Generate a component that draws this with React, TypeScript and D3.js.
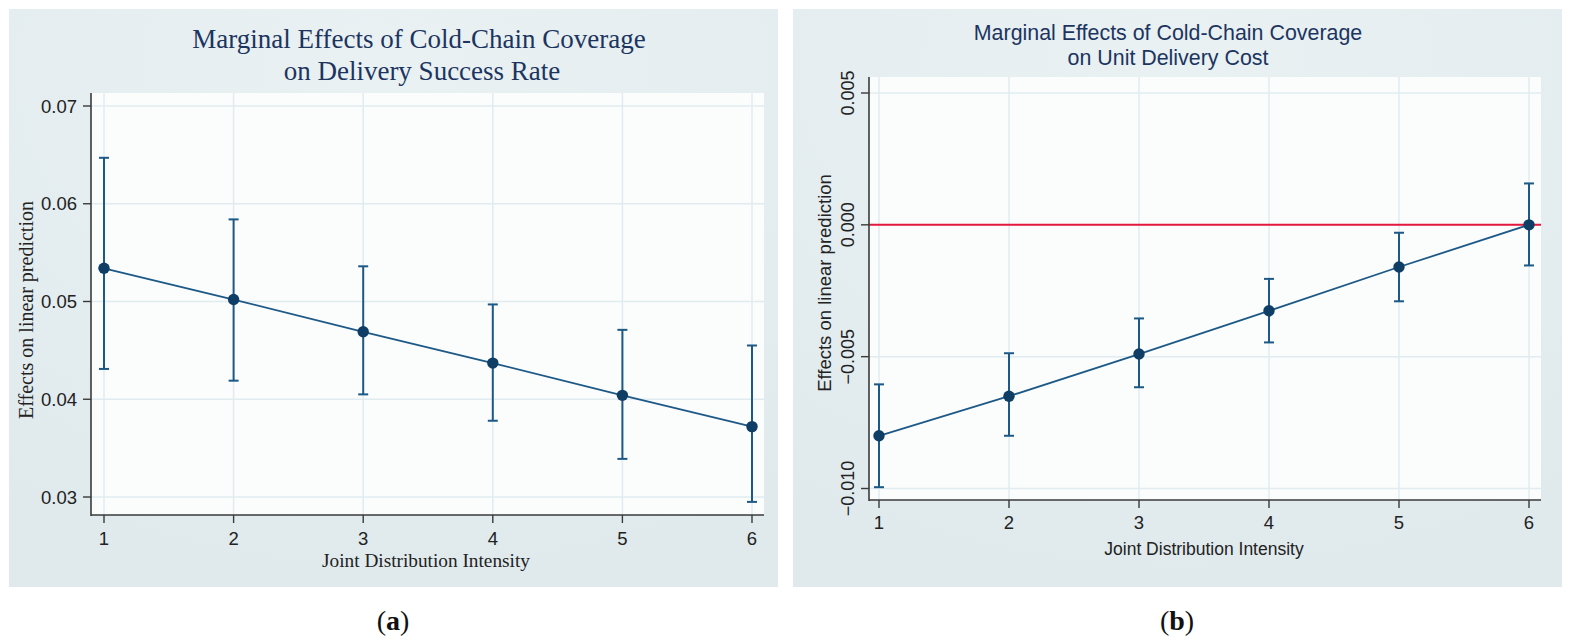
import React from "react";
import * as d3 from "d3";

// ---------- data ----------
const xCategories = [1, 2, 3, 4, 5, 6];

// Panel (a): Delivery Success Rate
const aEstimate = [0.0534, 0.0502, 0.0469, 0.0437, 0.0404, 0.0372];
const aUpper = [0.0647, 0.0584, 0.0536, 0.0497, 0.0471, 0.0455];
const aLower = [0.0431, 0.0419, 0.0405, 0.0378, 0.0339, 0.0295];
const aYTicks = [0.03, 0.04, 0.05, 0.06, 0.07];
const aYTickLabels = ["0.03", "0.04", "0.05", "0.06", "0.07"];

// Panel (b): Unit Delivery Cost
const bEstimate = [-0.008, -0.0065, -0.0049, -0.00326, -0.0016, 0.0];
const bUpper = [-0.00605, -0.00487, -0.00355, -0.00205, -0.0003, 0.00157];
const bLower = [-0.00995, -0.008, -0.00616, -0.00446, -0.0029, -0.00154];
const bYTicks = [-0.01, -0.005, 0.0, 0.005];
const bYTickLabels = ["\u22120.010", "\u22120.005", "0.000", "0.005"];
const bReference = 0;

const aTitle = ["Marginal Effects of Cold-Chain Coverage", "on Delivery Success Rate"];
const bTitle = ["Marginal Effects of Cold-Chain Coverage", "on Unit Delivery Cost"];
const xTitle = "Joint Distribution Intensity";
const yTitle = "Effects on linear prediction";

// ---------- styles ----------
const SERIF = "'Liberation Serif', 'Times New Roman', serif";
const SANS = "'Liberation Sans', Arial, sans-serif";
const PLOT_BG = "#fbfcfc";
const GRID = "#e1ecf0";
const AXIS = "#3a3a3a";
const NAVY_MARK = "#0e3d66";
const NAVY_LINE = "#1d5987";
const TITLE_COL = "#1c3560";

type PanelProps = {
  est: number[];
  up: number[];
  lo: number[];
  x: d3.ScaleLinear<number, number>;
  y: d3.ScaleLinear<number, number>;
};

function Series({ est, up, lo, x, y }: PanelProps) {
  const line = d3
    .line<number>()
    .x((_, i) => x(xCategories[i]))
    .y((d) => y(d));
  return (
    <g>
      {xCategories.map((c, i) => (
        <g key={"ci" + c}>
          <line x1={x(c)} x2={x(c)} y1={y(up[i])} y2={y(lo[i])} stroke={NAVY_LINE} strokeWidth={2} />
          <line x1={x(c) - 5} x2={x(c) + 5} y1={y(up[i])} y2={y(up[i])} stroke={NAVY_LINE} strokeWidth={2} />
          <line x1={x(c) - 5} x2={x(c) + 5} y1={y(lo[i])} y2={y(lo[i])} stroke={NAVY_LINE} strokeWidth={2} />
        </g>
      ))}
      <path d={line(est) || ""} fill="none" stroke={NAVY_LINE} strokeWidth={1.8} />
      {xCategories.map((c, i) => (
        <circle key={"pt" + c} cx={x(c)} cy={y(est[i])} r={5.7} fill={NAVY_MARK} />
      ))}
    </g>
  );
}

export default function App() {
  // Panel (a) geometry
  const aPlot = { l: 91, r: 764, t: 93, b: 515 };
  const ax = d3.scaleLinear().domain([1, 6]).range([104, 752]);
  const ay = d3.scaleLinear().domain([0.03, 0.07]).range([497, 106]);

  // Panel (b) geometry
  const bPlot = { l: 869, r: 1541, t: 77, b: 500 };
  const bx = d3.scaleLinear().domain([1, 6]).range([879, 1529]);
  const by = d3.scaleLinear().domain([-0.01, 0.005]).range([488.5, 93]);

  return (
    <svg
      width={1571}
      height={642}
      style={{ position: "absolute", left: 0, top: 0, background: "#ffffff" }}
    >
      <defs>
        <radialGradient id="bgGrad" cx="50%" cy="10%" r="90%">
          <stop offset="0%" stopColor="#eaf1f3" />
          <stop offset="100%" stopColor="#e0eaed" />
        </radialGradient>
      </defs>

      {/* ---------- Panel (a) ---------- */}
      <rect x={9} y={9} width={769} height={578} fill="url(#bgGrad)" />
      <rect x={aPlot.l} y={aPlot.t} width={aPlot.r - aPlot.l} height={aPlot.b - aPlot.t} fill={PLOT_BG} />
      {aYTicks.map((v) => (
        <line key={"agy" + v} x1={aPlot.l} x2={aPlot.r} y1={ay(v)} y2={ay(v)} stroke={GRID} strokeWidth={1.5} />
      ))}
      {xCategories.map((c) => (
        <line key={"agx" + c} x1={ax(c)} x2={ax(c)} y1={aPlot.t} y2={aPlot.b} stroke={GRID} strokeWidth={1.5} />
      ))}
      <line x1={aPlot.l} x2={aPlot.l} y1={aPlot.t} y2={aPlot.b + 1} stroke={AXIS} strokeWidth={1.6} />
      <line x1={aPlot.l} x2={aPlot.r} y1={aPlot.b} y2={aPlot.b} stroke={AXIS} strokeWidth={1.6} />
      {aYTicks.map((v, i) => (
        <g key={"aty" + v}>
          <line x1={aPlot.l - 8} x2={aPlot.l} y1={ay(v)} y2={ay(v)} stroke={AXIS} strokeWidth={1.4} />
          <text x={77} y={ay(v) + 6.5} textAnchor="end" fontFamily={SANS} fontSize={18.5} fill="#222">
            {aYTickLabels[i]}
          </text>
        </g>
      ))}
      {xCategories.map((c) => (
        <g key={"atx" + c}>
          <line x1={ax(c)} x2={ax(c)} y1={aPlot.b} y2={aPlot.b + 8} stroke={AXIS} strokeWidth={1.4} />
          <text x={ax(c)} y={544.5} textAnchor="middle" fontFamily={SANS} fontSize={18.5} fill="#222">
            {c}
          </text>
        </g>
      ))}
      <Series est={aEstimate} up={aUpper} lo={aLower} x={ax} y={ay} />
      <text x={426} y={567} textAnchor="middle" fontFamily={SERIF} fontSize={19.3} fill="#222">
        {xTitle}
      </text>
      <text
        transform={`translate(33,310) rotate(-90)`}
        textAnchor="middle"
        fontFamily={SERIF}
        fontSize={20}
        fill="#222"
      >
        {yTitle}
      </text>
      <text x={419} y={47.5} textAnchor="middle" fontFamily={SERIF} fontSize={27} fill={TITLE_COL}>
        {aTitle[0]}
      </text>
      <text x={422} y={79.5} textAnchor="middle" fontFamily={SERIF} fontSize={27} fill={TITLE_COL}>
        {aTitle[1]}
      </text>

      {/* ---------- Panel (b) ---------- */}
      <rect x={793} y={9} width={769} height={578} fill="url(#bgGrad)" />
      <rect x={bPlot.l} y={bPlot.t} width={bPlot.r - bPlot.l} height={bPlot.b - bPlot.t} fill={PLOT_BG} />
      {bYTicks.map((v) => (
        <line key={"bgy" + v} x1={bPlot.l} x2={bPlot.r} y1={by(v)} y2={by(v)} stroke={GRID} strokeWidth={1.5} />
      ))}
      {xCategories.map((c) => (
        <line key={"bgx" + c} x1={bx(c)} x2={bx(c)} y1={bPlot.t} y2={bPlot.b} stroke={GRID} strokeWidth={1.5} />
      ))}
      <line x1={bPlot.l} x2={bPlot.r} y1={by(bReference)} y2={by(bReference)} stroke="#e5183f" strokeWidth={2} />
      <line x1={bPlot.l} x2={bPlot.l} y1={bPlot.t} y2={bPlot.b + 1} stroke={AXIS} strokeWidth={1.6} />
      <line x1={bPlot.l} x2={bPlot.r} y1={bPlot.b} y2={bPlot.b} stroke={AXIS} strokeWidth={1.6} />
      {bYTicks.map((v, i) => (
        <g key={"bty" + v}>
          <line x1={bPlot.l - 8} x2={bPlot.l} y1={by(v)} y2={by(v)} stroke={AXIS} strokeWidth={1.4} />
          <text
            transform={`translate(854,${by(v)}) rotate(-90)`}
            textAnchor="middle"
            fontFamily={SANS}
            fontSize={18}
            fill="#222"
          >
            {bYTickLabels[i]}
          </text>
        </g>
      ))}
      {xCategories.map((c) => (
        <g key={"btx" + c}>
          <line x1={bx(c)} x2={bx(c)} y1={bPlot.b} y2={bPlot.b + 8} stroke={AXIS} strokeWidth={1.4} />
          <text x={bx(c)} y={529} textAnchor="middle" fontFamily={SANS} fontSize={18.5} fill="#222">
            {c}
          </text>
        </g>
      ))}
      <Series est={bEstimate} up={bUpper} lo={bLower} x={bx} y={by} />
      <text x={1204} y={555} textAnchor="middle" fontFamily={SANS} fontSize={17.5} fill="#222">
        {xTitle}
      </text>
      <text
        transform={`translate(831,283) rotate(-90)`}
        textAnchor="middle"
        fontFamily={SANS}
        fontSize={18.5}
        fill="#222"
      >
        {yTitle}
      </text>
      <text x={1168} y={39.5} textAnchor="middle" fontFamily={SANS} fontSize={21.4} fill={TITLE_COL}>
        {bTitle[0]}
      </text>
      <text x={1168} y={65} textAnchor="middle" fontFamily={SANS} fontSize={21.4} fill={TITLE_COL}>
        {bTitle[1]}
      </text>

      {/* ---------- captions ---------- */}
      <text x={393} y={630} textAnchor="middle" fontFamily={SERIF} fontSize={28} fill="#111">
        (<tspan fontWeight="bold">a</tspan>)
      </text>
      <text x={1177} y={630} textAnchor="middle" fontFamily={SERIF} fontSize={28} fill="#111">
        (<tspan fontWeight="bold">b</tspan>)
      </text>
    </svg>
  );
}
